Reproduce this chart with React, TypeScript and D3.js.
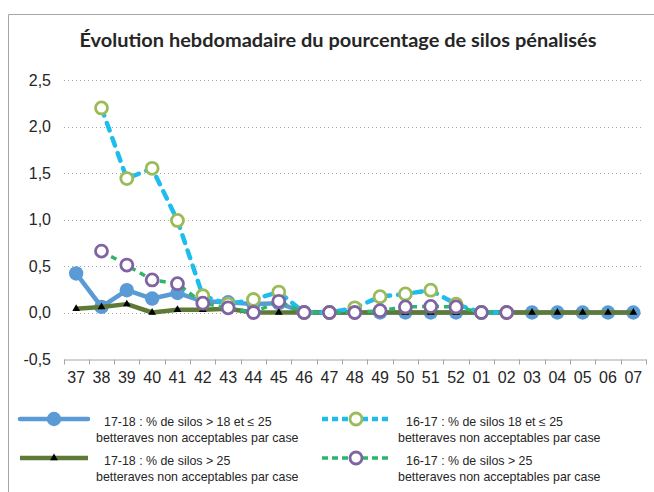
import React, { useRef, useEffect } from "react";
import * as d3 from "d3";

// semaines de campagne
const weeks = [
    "37", "38", "39", "40", "41", "42", "43", "44", "45", "46", "47", "48",
    "49", "50", "51", "52", "01", "02", "03", "04", "05", "06", "07",
];

// 17-18 : % de silos > 18 et <= 25
const silos1718Mid = [
    0.42, 0.06, 0.24, 0.15, 0.21, 0.12, 0.11, 0.09, 0.1, 0, 0, 0,
    0, 0, 0, 0, 0, 0, 0, 0, 0, 0, 0,
];
// 17-18 : % de silos > 25
const silos1718High = [
    0.04, 0.06, 0.09, 0.0, 0.03, 0.03, 0.04, 0, 0, 0, 0, 0,
    0, 0, 0, 0, 0, 0, 0, 0, 0, 0, 0,
];
// 16-17 : % de silos 18 et <= 25
const silos1617Mid = [
    null, 2.2, 1.44, 1.55, 0.99, 0.18, 0.09, 0.14, 0.22, 0, 0, 0.05,
    0.17, 0.2, 0.24, 0.09, 0, 0, null, null, null, null, null,
];
// 16-17 : % de silos > 25
const silos1617High = [
    null, 0.66, 0.51, 0.35, 0.31, 0.1, 0.05, 0.0, 0.12, 0, 0, 0,
    0.02, 0.06, 0.065, 0.06, 0, 0, null, null, null, null, null,
];

const yTicks = [-0.5, 0, 0.5, 1, 1.5, 2, 2.5];

const legendLines = [
    ["17-18 : % de silos > 18 et ≤ 25", "betteraves non acceptables par case"],
    ["16-17 : % de silos 18 et ≤ 25", "betteraves non acceptables par case"],
    ["17-18 : % de silos > 25", "betteraves non acceptables par case"],
    ["16-17 : % de silos > 25", "betteraves non acceptables par case"],
];

const title = "Évolution hebdomadaire du pourcentage de silos pénalisés";

function App() {
    const svgRef = useRef(null);

    useEffect(() => {
        const width = 654;
        const height = 492;
        const svg = d3.select(svgRef.current);
        svg.selectAll("*").remove();
        svg.attr("width", width).attr("height", height);

        const series = [
            { values: silos1718Mid, color: "#5b9bd5", width: 4.5, dash: null, cap: "round", marker: "dot", mStroke: null },
            { values: silos1718High, color: "#5f7a37", width: 4.5, dash: null, cap: "butt", marker: "tri", mStroke: null },
            { values: silos1617Mid, color: "#1fbcee", width: 4.5, dash: "8,8", cap: "round", marker: "ring", mStroke: "#9bbb59" },
            { values: silos1617High, color: "#2db56d", width: 3.5, dash: "6,5", cap: "butt", marker: "ring", mStroke: "#8064a2" },
        ];

        // cadre
        svg.append("path")
            .attr("d", `M8.5,${height} V14.5 H${width}`)
            .attr("fill", "none")
            .attr("stroke", "#a6a6a6")
            .attr("stroke-width", 1);

        svg.append("text")
            .attr("x", 338)
            .attr("y", 47)
            .attr("text-anchor", "middle")
            .attr("font-family", "Lato, 'Open Sans', sans-serif")
            .attr("font-weight", "bold")
            .attr("font-size", 18.5)
            .attr("fill", "#262626")
            .attr("textLength", 517)
            .attr("lengthAdjust", "spacingAndGlyphs")
            .text(title);

        const xScale = d3.scaleBand().domain(weeks).range([63.5, 646]);
        const yScale = d3.scaleLinear().domain([-0.5, 2.5]).range([359, 80]);
        const cx = (i) => xScale(weeks[i]) + xScale.bandwidth() / 2;

        // grille
        svg.append("g")
            .selectAll("line")
            .data(yTicks.filter((t) => t > -0.5))
            .enter()
            .append("line")
            .attr("x1", 64)
            .attr("x2", 644)
            .attr("y1", (d) => Math.round(yScale(d)) + 0.5)
            .attr("y2", (d) => Math.round(yScale(d)) + 0.5)
            .attr("stroke", "#a6a6a6")
            .attr("stroke-width", 1)
            .attr("stroke-dasharray", "1,3");

        svg.append("g")
            .selectAll("text")
            .data(yTicks)
            .enter()
            .append("text")
            .attr("x", 51)
            .attr("y", (d) => yScale(d) + 5.5)
            .attr("text-anchor", "end")
            .attr("font-family", "'Liberation Sans', Arial, sans-serif")
            .attr("font-size", 16)
            .attr("fill", "#262626")
            .text((d) => d.toFixed(1).replace(".", ","));

        // axe des x
        const xAxis = d3.axisBottom(xScale).tickSize(0).tickPadding(0);
        const gx = svg.append("g").attr("transform", "translate(0,359.5)").call(xAxis);
        gx.select(".domain").attr("stroke", "#a6a6a6");
        gx.selectAll(".tick text")
            .attr("y", 23)
            .attr("dy", 0)
            .attr("font-family", "'Liberation Sans', Arial, sans-serif")
            .attr("font-size", 16)
            .attr("fill", "#262626");
        gx.append("g")
            .selectAll("line")
            .data(d3.range(weeks.length + 1))
            .enter()
            .append("line")
            .attr("x1", (i) => Math.round(63.5 + i * xScale.step()) + 0.5)
            .attr("x2", (i) => Math.round(63.5 + i * xScale.step()) + 0.5)
            .attr("y1", 0)
            .attr("y2", 5)
            .attr("stroke", "#a6a6a6");

        const triangle = d3.symbol().type(d3.symbolTriangle).size(26);

        const drawMarker = (g, s, x, y) => {
            if (s.marker === "dot") {
                g.append("circle").attr("cx", x).attr("cy", y).attr("r", 7.2).attr("fill", s.color);
            } else if (s.marker === "tri") {
                g.append("path").attr("d", triangle()).attr("transform", `translate(${x},${y})`).attr("fill", "#000");
            } else {
                g.append("circle")
                    .attr("cx", x)
                    .attr("cy", y)
                    .attr("r", 6)
                    .attr("fill", "#fff")
                    .attr("stroke", s.mStroke)
                    .attr("stroke-width", 2.8);
            }
        };

        const line = d3
            .line()
            .defined((d) => d != null)
            .x((d, i) => cx(i))
            .y((d) => yScale(d));

        series.forEach((s) => {
            const g = svg.append("g");
            g.append("path")
                .datum(s.values)
                .attr("d", line)
                .attr("fill", "none")
                .attr("stroke", s.color)
                .attr("stroke-width", s.width)
                .attr("stroke-linecap", s.cap)
                .attr("stroke-linejoin", "round")
                .attr("stroke-dasharray", s.dash);
            s.values.forEach((v, i) => {
                if (v != null) drawMarker(g, s, cx(i), yScale(v));
            });
        });

        // légende
        const legendOrder = [0, 2, 1, 3];
        legendOrder.forEach((si, k) => {
            const s = series[si];
            const lx = k % 2 === 0 ? 20 : 322;
            const ly = k < 2 ? 419 : 458;
            const g = svg.append("g");
            g.append("line")
                .attr("x1", lx)
                .attr("x2", lx + 68)
                .attr("y1", ly)
                .attr("y2", ly)
                .attr("stroke", s.color)
                .attr("stroke-width", s.width)
                .attr("stroke-linecap", s.dash ? "butt" : s.cap)
                .attr("stroke-dasharray", s.dash ? "6,4" : null);
            drawMarker(g, { ...s, marker: s.marker === "dot" ? "dot" : s.marker }, lx + 34, ly);
            const labels = legendLines[k];
            g.append("text")
                .attr("x", lx + 84)
                .attr("y", ly + 7)
                .attr("font-family", "'Liberation Sans', Arial, sans-serif")
                .attr("font-size", 12.4)
                .attr("fill", "#262626")
                .text(labels[0]);
            g.append("text")
                .attr("x", lx + 76)
                .attr("y", ly + 22.5)
                .attr("font-family", "'Liberation Sans', Arial, sans-serif")
                .attr("font-size", 12.4)
                .attr("fill", "#262626")
                .text(labels[1]);
        });
    }, []);

    return (
        <svg ref={svgRef} style={{ position: "absolute", left: 0, top: 0, background: "#fff" }}></svg>
    );
}

export default App;
